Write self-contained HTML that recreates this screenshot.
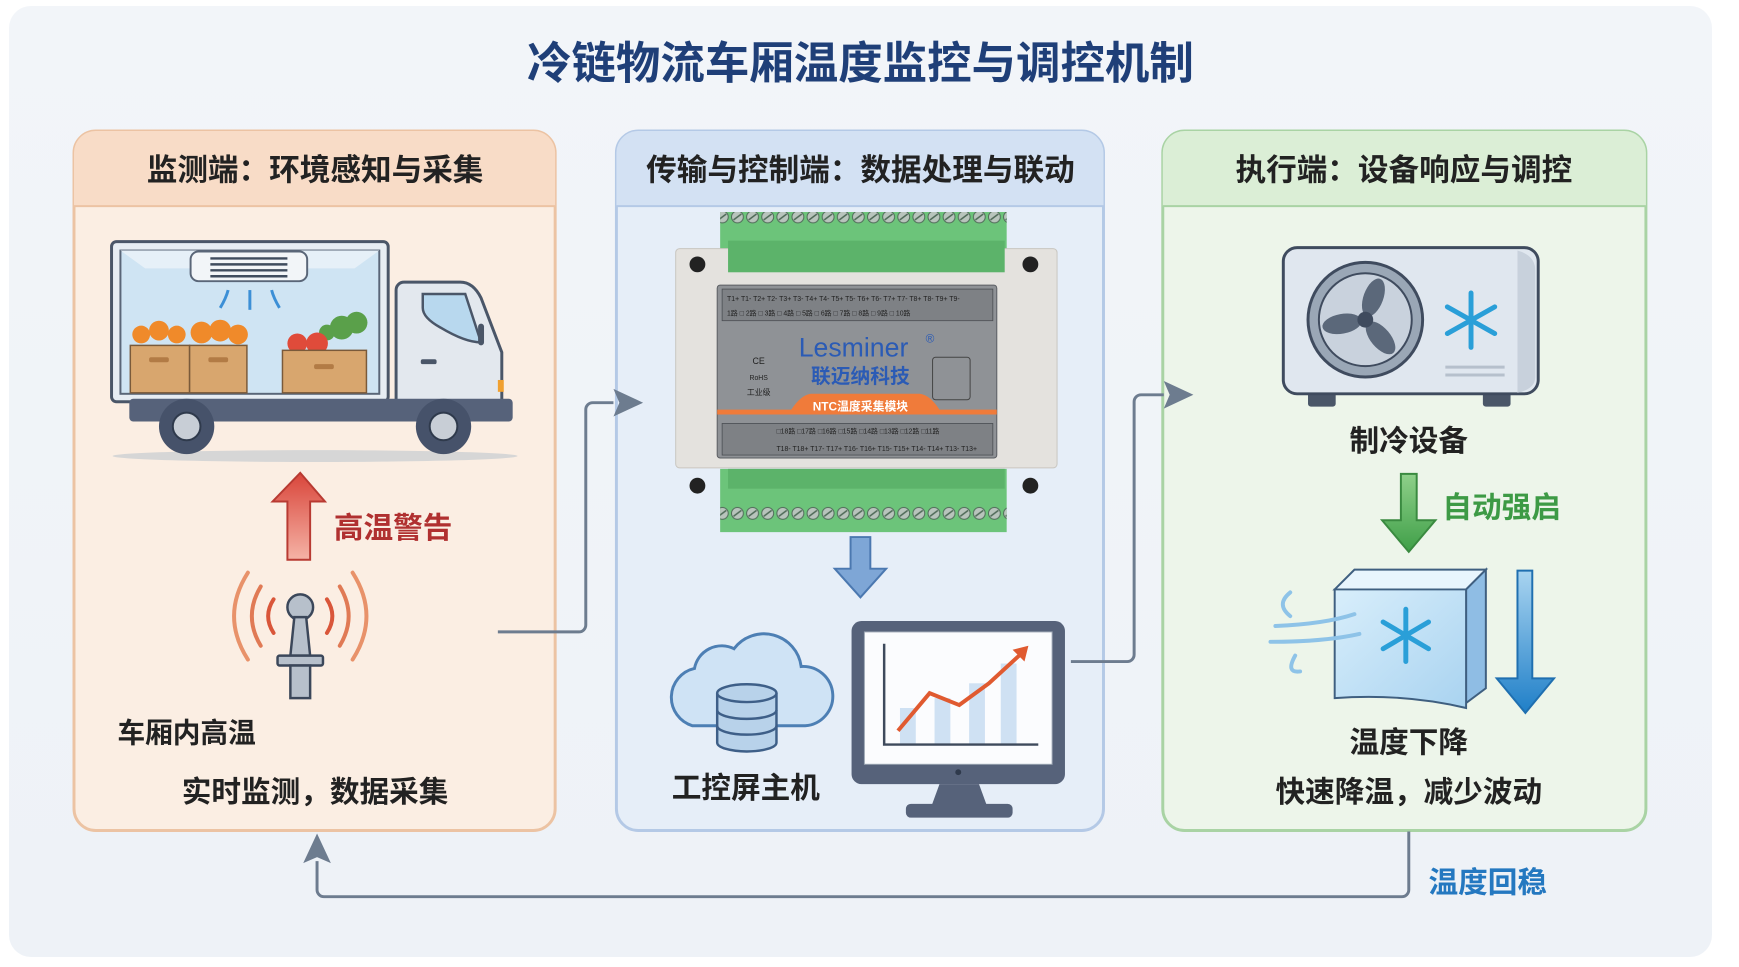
<!DOCTYPE html>
<html><head><meta charset="utf-8"><style>
html,body{margin:0;padding:0;background:#fff;}
svg{display:block;}
text{font-family:"Liberation Sans","Noto Sans CJK SC",sans-serif;}
</style></head><body>
<svg width="1739" height="967" viewBox="0 0 1739 967" xmlns="http://www.w3.org/2000/svg">
<defs>
<linearGradient id="bg" x1="0" y1="0" x2="0" y2="1"><stop offset="0" stop-color="#f2f5f9"/><stop offset="1" stop-color="#eef2f7"/></linearGradient>
<linearGradient id="redA" x1="0" y1="0" x2="0" y2="1"><stop offset="0" stop-color="#d9453a"/><stop offset="1" stop-color="#f5b3a6"/></linearGradient>
<linearGradient id="grnA" x1="0" y1="0" x2="0" y2="1"><stop offset="0" stop-color="#8fd08a"/><stop offset="1" stop-color="#3f9f48"/></linearGradient>
<linearGradient id="bluA" x1="0" y1="0" x2="0" y2="1"><stop offset="0" stop-color="#a9d4f0"/><stop offset="1" stop-color="#1f7fc8"/></linearGradient>
<linearGradient id="cube" x1="0" y1="0" x2="1" y2="1"><stop offset="0" stop-color="#d8eefb"/><stop offset="1" stop-color="#a9d3f0"/></linearGradient>
<pattern id="screw" x="738" y="0" width="15.3" height="30" patternUnits="userSpaceOnUse">
<circle cx="7.5" cy="8" r="6" fill="#b8c4bc" stroke="#4f6a58" stroke-width="1"/><line x1="3.5" y1="11" x2="11.5" y2="5" stroke="#4f6a58" stroke-width="1.5"/>
</pattern>
</defs>
<rect width="1739" height="967" fill="#fff"/>
<rect x="9" y="6" width="1703" height="951" rx="22" fill="url(#bg)"/>
<g transform="translate(74 131) scale(0.988) translate(-74 -131)">
<text x="870" y="78" text-anchor="middle" font-size="45" font-weight="bold" fill="#1f3f78">冷链物流车厢温度监控与调控机制</text>

<!-- panel 1 -->
<rect x="74" y="131" width="487" height="708" rx="22" fill="#fbeee3" stroke="#ecc3a3" stroke-width="3"/>
<path d="M74 207 V153 a22 22 0 0 1 22 -22 H539 a22 22 0 0 1 22 22 V207 Z" fill="#f8dcc7"/>
<line x1="74" y1="207" x2="561" y2="207" stroke="#ecc3a3" stroke-width="2"/>
<text x="318" y="181" text-anchor="middle" font-size="31" font-weight="bold" fill="#222">监测端：环境感知与采集</text>
<!-- panel 2 -->
<rect x="623" y="131" width="493" height="708" rx="22" fill="#e6eef8" stroke="#b4c9e6" stroke-width="3"/>
<path d="M623 207 V153 a22 22 0 0 1 22 -22 H1094 a22 22 0 0 1 22 22 V207 Z" fill="#d3e1f3"/>
<line x1="623" y1="207" x2="1116" y2="207" stroke="#b4c9e6" stroke-width="2"/>
<text x="870" y="181" text-anchor="middle" font-size="31" font-weight="bold" fill="#222">传输与控制端：数据处理与联动</text>
<!-- panel 3 -->
<rect x="1176" y="131" width="489" height="708" rx="22" fill="#edf5ea" stroke="#a9d3a4" stroke-width="3"/>
<path d="M1176 207 V153 a22 22 0 0 1 22 -22 H1643 a22 22 0 0 1 22 22 V207 Z" fill="#dbeed6"/>
<line x1="1176" y1="207" x2="1665" y2="207" stroke="#a9d3a4" stroke-width="2"/>
<text x="1420" y="181" text-anchor="middle" font-size="31" font-weight="bold" fill="#222">执行端：设备响应与调控</text>

<!-- truck -->
<ellipse cx="318" cy="460" rx="205" ry="6" fill="#d6d6d6"/>
<rect x="112" y="243" width="280" height="162" rx="5" fill="#e7edf3" stroke="#4a5668" stroke-width="3"/>
<rect x="121" y="252" width="262" height="145" fill="#cfe4f3" stroke="#5a6678" stroke-width="2"/>
<polygon points="121,252 383,252 358,270 146,270" fill="#e6f0f8"/>
<rect x="192" y="253" width="118" height="30" rx="8" fill="#f2f5f8" stroke="#5a6678" stroke-width="2"/>
<g stroke="#3f4c5e" stroke-width="2.5"><line x1="212" y1="260" x2="290" y2="260"/><line x1="212" y1="266" x2="290" y2="266"/><line x1="212" y1="272" x2="290" y2="272"/><line x1="212" y1="278" x2="290" y2="278"/></g>
<g stroke="#3c8fd6" stroke-width="3" fill="none"><path d="M222 310 Q228 300 230 292"/><path d="M252 312 V292"/><path d="M282 310 Q276 300 274 292"/></g>
<g fill="#f08a2a"><circle cx="142" cy="337" r="9"/><circle cx="160" cy="333" r="10"/><circle cx="178" cy="337" r="9"/><circle cx="203" cy="335" r="11"/><circle cx="222" cy="333" r="11"/><circle cx="240" cy="337" r="10"/></g>
<g fill="#5aa04a"><circle cx="345" cy="330" r="12"/><circle cx="360" cy="325" r="11"/><circle cx="330" cy="335" r="8"/></g>
<g fill="#e04b3a"><circle cx="300" cy="346" r="10"/><circle cx="320" cy="346" r="11"/></g>
<g fill="#d8a66e" stroke="#7a5a3a" stroke-width="1.5"><rect x="131" y="348" width="60" height="48"/><rect x="191" y="348" width="58" height="48"/><rect x="285" y="353" width="85" height="43"/></g>
<g fill="#b27b45"><rect x="150" y="360" width="20" height="5" rx="2"/><rect x="210" y="360" width="20" height="5" rx="2"/><rect x="317" y="367" width="20" height="5" rx="2"/></g>
<path d="M400 405 V292 a8 8 0 0 1 8 -8 H465 Q478 284 486 300 L507 355 V405 Z" fill="#e3e8ee" stroke="#4a5668" stroke-width="3"/>
<path d="M427 296 H470 L486 345 Q470 345 445 330 Q427 320 427 310 Z" fill="#b8d8ee" stroke="#4a5668" stroke-width="2.5"/>
<rect x="483" y="326" width="6" height="22" rx="3" fill="#4a5668"/>
<rect x="425" y="362" width="16" height="5" rx="2" fill="#4a5668"/>
<rect x="503" y="383" width="6" height="12" fill="#f0a030"/>
<rect x="130" y="402" width="388" height="23" rx="4" fill="#56627a"/>
<circle cx="188" cy="430" r="28" fill="#46526a"/><circle cx="188" cy="430" r="14" fill="#c8ced6" stroke="#2f3a4c" stroke-width="2"/>
<circle cx="448" cy="430" r="28" fill="#46526a"/><circle cx="448" cy="430" r="14" fill="#c8ced6" stroke="#2f3a4c" stroke-width="2"/>

<!-- red arrow -->
<polygon points="303,477 328,506 313,506 313,565 290,565 290,506 275,506" fill="url(#redA)" stroke="#b83a32" stroke-width="2"/>
<text x="337" y="543" font-size="30" font-weight="bold" fill="#b03030">高温警告</text>
<!-- sensor -->
<g fill="none" stroke-linecap="round">
<path d="M276 605 Q265 622 276 639" stroke="#d9563a" stroke-width="4"/>
<path d="M330 605 Q341 622 330 639" stroke="#d9563a" stroke-width="4"/>
<path d="M263 592 Q245 622 263 652" stroke="#e07a55" stroke-width="4"/>
<path d="M343 592 Q361 622 343 652" stroke="#e07a55" stroke-width="4"/>
<path d="M250 578 Q222 622 250 666" stroke="#e8926a" stroke-width="4"/>
<path d="M356 578 Q384 622 356 666" stroke="#e8926a" stroke-width="4"/>
</g>
<circle cx="303" cy="613" r="13" fill="#b7c0cb" stroke="#3b475a" stroke-width="2.5"/>
<polygon points="297,623 309,623 313,662 293,662" fill="#b7c0cb" stroke="#3b475a" stroke-width="2.5"/>
<rect x="280" y="662" width="46" height="10" rx="2" fill="#b7c0cb" stroke="#3b475a" stroke-width="2.5"/>
<rect x="293" y="672" width="20" height="33" fill="#b7c0cb" stroke="#3b475a" stroke-width="2.5"/>
<text x="118" y="750" font-size="28" font-weight="bold" fill="#222">车厢内高温</text>
<text x="318" y="810" text-anchor="middle" font-size="30" font-weight="bold" fill="#222">实时监测，数据采集</text>

<!-- connector 1 -->
<path d="M503 638 H585 a7 7 0 0 0 7 -7 V413 a7 7 0 0 1 7 -7 H620" fill="none" stroke="#6d7c8f" stroke-width="3"/>
<polygon points="650,406 620,392 626,406 620,420" fill="#6d7c8f"/>

<!-- module -->
<rect x="728" y="213" width="290" height="60" fill="#6cc47a"/>
<rect x="728" y="213" width="290" height="26" fill="url(#screw)"/>
<rect x="683" y="250" width="386" height="222" rx="4" fill="#e4e2de" stroke="#c9c6c0"/>
<rect x="736" y="242" width="280" height="32" fill="#5cb36a"/>
<circle cx="705" cy="266" r="8" fill="#222"/><circle cx="1042" cy="266" r="8" fill="#222"/>
<circle cx="705" cy="490" r="8" fill="#222"/><circle cx="1042" cy="490" r="8" fill="#222"/>
<rect x="725" y="287" width="283" height="175" rx="3" fill="#8f9296" stroke="#5a5d62"/>
<g fill="#7e8185" stroke="#4a4d52" stroke-width="0.8">
<rect x="730" y="291" width="274" height="32"/><rect x="730" y="427" width="274" height="32"/></g>
<g font-size="7" fill="#222"><text x="735" y="303">T1+ T1- T2+ T2- T3+ T3- T4+ T4- T5+ T5- T6+ T6- T7+ T7- T8+ T8- T9+ T9-</text><text x="735" y="318">1路 □ 2路 □ 3路 □ 4路 □ 5路 □ 6路 □ 7路 □ 8路 □ 9路 □ 10路</text>
<text x="785" y="437">□18路 □17路 □16路 □15路 □14路 □13路 □12路 □11路</text><text x="785" y="455">T18- T18+ T17- T17+ T16- T16+ T15- T15+ T14- T14+ T13- T13+</text></g>
<text x="863" y="359" text-anchor="middle" font-size="27" fill="#2b5bb5">Lesminer</text>
<text x="936" y="345" font-size="12" fill="#2b5bb5">®</text>
<text x="870" y="386" text-anchor="middle" font-size="20" font-weight="bold" fill="#2b5bb5">联迈纳科技</text>
<text x="767" y="367" text-anchor="middle" font-size="9" fill="#222">CE</text>
<text x="767" y="383" text-anchor="middle" font-size="7" fill="#222">RoHS</text>
<text x="767" y="398" text-anchor="middle" font-size="8" fill="#222">工业级</text>
<rect x="943" y="360" width="38" height="43" rx="3" fill="none" stroke="#444"/>
<path d="M725 413 H800 Q810 398 820 397 H930 Q940 398 950 413 H1008 V418 H725Z" fill="#f07b3a"/>
<text x="870" y="414" text-anchor="middle" font-size="12" font-weight="bold" fill="#fff">NTC温度采集模块</text>
<rect x="728" y="473" width="290" height="64" fill="#6cc47a"/>
<rect x="728" y="510" width="290" height="27" fill="url(#screw)"/>
<rect x="736" y="473" width="280" height="20" fill="#5cb36a"/>

<!-- blue down arrow -->
<polygon points="860,542 880,542 880,574 896,574 870,603 844,574 860,574" fill="#7ea6d6" stroke="#4b78b0" stroke-width="2"/>

<!-- cloud -->
<path d="M700 733 a30 30 0 0 1 2 -58 a28 28 0 0 1 40 -20 a38 38 0 0 1 68 18 a30 30 0 0 1 4 60 Z" fill="#cfe3f5" stroke="#4d7fb4" stroke-width="3"/>
<g fill="#b8d2ea" stroke="#3e5f88" stroke-width="2.5">
<path d="M725 700 V750 a30 9 0 0 0 60 0 V700"/>
<ellipse cx="755" cy="700" rx="30" ry="9"/>
<path d="M725 717 a30 9 0 0 0 60 0" fill="none"/><path d="M725 733 a30 9 0 0 0 60 0" fill="none"/></g>
<text x="754" y="806" text-anchor="middle" font-size="30" font-weight="bold" fill="#222">工控屏主机</text>

<!-- monitor -->
<rect x="861" y="627" width="216" height="165" rx="10" fill="#56627a"/>
<rect x="874" y="638" width="190" height="134" fill="#fbfcfe" stroke="#9aa4b2"/>
<circle cx="969" cy="780" r="3" fill="#2f3a4c"/>
<polygon points="950,792 990,792 998,814 942,814" fill="#56627a"/>
<rect x="916" y="812" width="108" height="14" rx="5" fill="#56627a"/>
<g fill="#cfe1f3"><rect x="910" y="715" width="16" height="37"/><rect x="945" y="705" width="16" height="47"/><rect x="980" y="690" width="16" height="62"/><rect x="1012" y="670" width="16" height="82"/></g>
<path d="M894 650 V752 H1050" fill="none" stroke="#3e4a5c" stroke-width="2.5"/>
<path d="M908 738 L940 700 L970 712 L1000 690 L1035 658" fill="none" stroke="#e05a30" stroke-width="4"/>
<polygon points="1040,652 1024,656 1036,668" fill="#e05a30"/>

<!-- connector 2 -->
<path d="M1083 668 H1140 a7 7 0 0 0 7 -7 V405 a7 7 0 0 1 7 -7 H1177" fill="none" stroke="#6d7c8f" stroke-width="3"/>
<polygon points="1207,398 1177,384 1183,398 1177,412" fill="#6d7c8f"/>

<!-- AC unit -->
<rect x="1323" y="395" width="28" height="15" rx="3" fill="#4a5668"/><rect x="1500" y="395" width="28" height="15" rx="3" fill="#4a5668"/>
<rect x="1298" y="249" width="258" height="148" rx="14" fill="#e0e7ef" stroke="#3f4b5e" stroke-width="3"/>
<path d="M1535 252 q18 5 18 20 V380 q0 12 -18 16" fill="#c8d1dc"/>
<circle cx="1381" cy="322" r="58" fill="#9aa7b6" stroke="#3f4b5e" stroke-width="3"/>
<circle cx="1381" cy="322" r="47" fill="#c9d2dd" stroke="#3f4b5e" stroke-width="2"/>
<g fill="#5b687a"><ellipse cx="1381" cy="298" rx="10" ry="20" transform="rotate(20 1381 322)"/><ellipse cx="1381" cy="298" rx="10" ry="20" transform="rotate(140 1381 322)"/><ellipse cx="1381" cy="298" rx="10" ry="20" transform="rotate(260 1381 322)"/></g>
<circle cx="1381" cy="322" r="8" fill="#3f4b5e"/>
<g stroke="#2a9fd8" stroke-width="5" stroke-linecap="round"><line x1="1488" y1="295" x2="1488" y2="350"/><line x1="1464" y1="309" x2="1512" y2="336"/><line x1="1464" y1="336" x2="1512" y2="309"/></g>
<g stroke="#b6c0cc" stroke-width="3"><line x1="1462" y1="370" x2="1522" y2="370"/><line x1="1462" y1="378" x2="1522" y2="378"/></g>
<text x="1425" y="455" text-anchor="middle" font-size="30" font-weight="bold" fill="#222">制冷设备</text>

<!-- green arrow -->
<polygon points="1417,478 1433,478 1433,525 1452,525 1425,557 1398,525 1417,525" fill="url(#grnA)" stroke="#3a8a40" stroke-width="2"/>
<text x="1459" y="522" font-size="30" font-weight="bold" fill="#3d9a45">自动强启</text>

<!-- cube -->
<polygon points="1350,595 1370,575 1503,575 1483,595" fill="#e8f5fd" stroke="#3f5f80" stroke-width="2"/>
<polygon points="1483,595 1503,575 1503,695 1483,710" fill="#8fbde4" stroke="#3f5f80" stroke-width="2"/>
<path d="M1350 595 H1483 V715 Q1420 700 1350 705 Z" fill="url(#cube)" stroke="#3f5f80" stroke-width="2"/>
<g stroke="#2a9fd8" stroke-width="5" stroke-linecap="round"><line x1="1422" y1="615" x2="1422" y2="668"/><line x1="1399" y1="628" x2="1445" y2="655"/><line x1="1399" y1="655" x2="1445" y2="628"/></g>
<g fill="none" stroke="#8ec3e8" stroke-width="4" stroke-linecap="round">
<path d="M1290 632 Q1340 630 1370 620"/><path d="M1285 648 Q1340 648 1375 640"/><path d="M1305 622 Q1290 610 1305 598"/><path d="M1310 662 Q1300 680 1315 678"/></g>
<polygon points="1535,576 1550,576 1550,685 1572,685 1543,720 1514,685 1535,685" fill="url(#bluA)" stroke="#1f6fb0" stroke-width="2"/>
<text x="1425" y="760" text-anchor="middle" font-size="30" font-weight="bold" fill="#222">温度下降</text>
<text x="1425" y="810" text-anchor="middle" font-size="30" font-weight="bold" fill="#222">快速降温，减少波动</text>

<!-- bottom loop -->
<path d="M1425 840 V899 a7 7 0 0 1 -7 7 H327 a7 7 0 0 1 -7 -7 V870" fill="none" stroke="#6d7c8f" stroke-width="3"/>
<polygon points="320,842 306,872 320,866 334,872" fill="#6d7c8f"/>
<text x="1445" y="902" font-size="30" font-weight="bold" fill="#2478c0">温度回稳</text>
</g>
</svg>
</body></html>
